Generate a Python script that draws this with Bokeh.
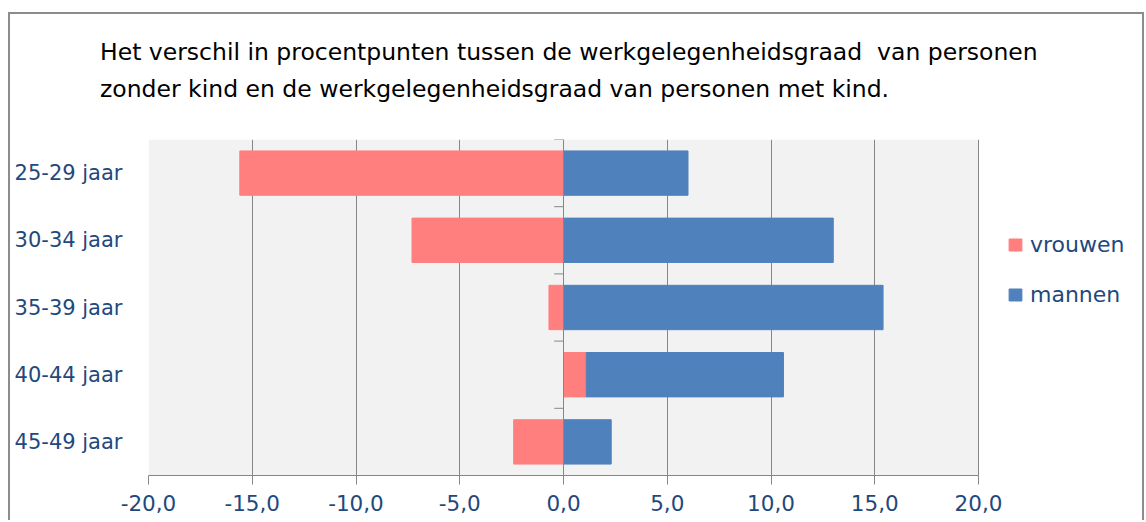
from bokeh.plotting import figure
from bokeh.layouts import column
from bokeh.models import (FactorRange, Range1d, CustomJSTickFormatter, Span, Legend,
                          LegendItem, FixedTicker, ColumnDataSource, BoxAnnotation, Div)
from bokeh.embed import file_html
from bokeh.resources import INLINE

# ---- data ----
categories = ["25-29 jaar", "30-34 jaar", "35-39 jaar", "40-44 jaar", "45-49 jaar"]
vrouwen = [-15.6, -7.3, -0.7, 1.1, -2.4]
mannen = [6.0, 13.0, 15.4, 9.5, 2.3]
series_names = ["vrouwen", "mannen"]
series_colors = ["#FF7F7F", "#4F81BD"]
x_ticks = [-20, -15, -10, -5, 0, 5, 10, 15, 20]
title_lines = [
    "Het verschil in procentpunten tussen de werkgelegenheidsgraad  van personen",
    "zonder kind en de werkgelegenheidsgraad van personen met kind.",
]

TXT = "#1F497D"
GRID = "#868686"
FONT = "DejaVu Sans"

# ---- layout constants (pixels) ----
W = 1132
TITLE_H = 100
MAIN_H = 406
LEFT = 138
PX_PER_UNIT = 830 / 40.0
x_end = -20 + (W - LEFT) / PX_PER_UNIT

# Excel-style stacking: positives on positives, negatives on negatives
pos = [0.0] * len(categories)
neg = [0.0] * len(categories)
sources = []
for vals in (vrouwen, mannen):
    left, right = [], []
    for i, v in enumerate(vals):
        if v >= 0:
            left.append(pos[i]); right.append(pos[i] + v); pos[i] += v
        else:
            left.append(neg[i] + v); right.append(neg[i]); neg[i] += v
    sources.append(ColumnDataSource(dict(cat=categories, left=left, right=right)))

# ---- title ----
title_html = (
    '<div style="font-family:\'DejaVu Sans\';font-size:23.5px;line-height:37px;'
    'color:#000000;padding-left:90px;padding-top:20px;margin:0;white-space:pre;">'
    + title_lines[0] + "<br>" + title_lines[1] + "</div>"
)
title = Div(text=title_html, width=W, height=TITLE_H, margin=0)

# ---- main chart ----
p = figure(width=W, height=MAIN_H, output_backend="svg", toolbar_location=None,
           y_range=FactorRange(*reversed(categories), range_padding=0),
           x_range=Range1d(-20, x_end),
           min_border_left=LEFT, min_border_right=0, min_border_top=25, min_border_bottom=45)
p.margin = 0
p.background_fill_color = "white"
p.border_fill_color = "white"
p.outline_line_color = None

p.add_layout(BoxAnnotation(left=-20, right=20, fill_color="#F2F2F2", fill_alpha=1,
                           line_color=None, level="image"))

renderers = []
for src, col in zip(sources, series_colors):
    r = p.hbar(y="cat", left="left", right="right", height=0.66, source=src,
               fill_color=col, line_color=col, line_width=1)
    renderers.append(r)

# vertical axis line at zero with category-boundary ticks
p.add_layout(Span(location=0, dimension="height", line_color=GRID, line_width=1))
n = len(categories)
p.segment(x0=[0] * n, x1=[-0.45] * n, y0=list(range(1, n + 1)), y1=list(range(1, n + 1)),
          line_color=GRID, line_width=1)

# x axis
p.xaxis.ticker = FixedTicker(ticks=x_ticks)
p.xaxis.bounds = (-20, 20)
p.xaxis.formatter = CustomJSTickFormatter(code="return tick.toFixed(1).replace('.', ',');")
p.xaxis.axis_line_color = GRID
p.xaxis.major_tick_line_color = GRID
p.xaxis.major_tick_out = 9
p.xaxis.major_tick_in = 0
p.xaxis.minor_tick_line_color = None
p.xaxis.major_label_standoff = 10
p.xaxis.major_label_text_font = FONT
p.xaxis.major_label_text_font_size = "21.5px"
p.xaxis.major_label_text_color = TXT

p.xgrid.ticker = FixedTicker(ticks=x_ticks)
p.xgrid.grid_line_color = GRID
p.ygrid.grid_line_color = None

# y axis labels
p.yaxis.axis_line_color = None
p.yaxis.major_tick_line_color = None
p.yaxis.minor_tick_line_color = None
p.yaxis.major_tick_out = 0
p.yaxis.major_label_standoff = 26
p.yaxis.major_label_text_font = FONT
p.yaxis.major_label_text_font_size = "21px"
p.yaxis.major_label_text_color = TXT

# legend (inside the extended frame, right of the plot area)
legend = Legend(items=[LegendItem(label=nm, renderers=[r]) for nm, r in zip(series_names, renderers)],
                location=(859, 168), orientation="vertical",
                glyph_width=16, glyph_height=15, label_standoff=7, spacing=25,
                padding=0, margin=0, border_line_color=None, background_fill_alpha=0,
                label_text_font=FONT, label_text_font_size="22px", label_text_color=TXT,
                label_height=25)
p.add_layout(legend, "center")

page = column(title, p, spacing=0)
page.margin = (12, 0, 0, 8)
page.styles = {"border-left": "2px solid #8C8C8C", "border-top": "2px solid #8C8C8C",
               "border-right": "2px solid #8C8C8C"}

open("out.html", "w").write(file_html(page, INLINE))
